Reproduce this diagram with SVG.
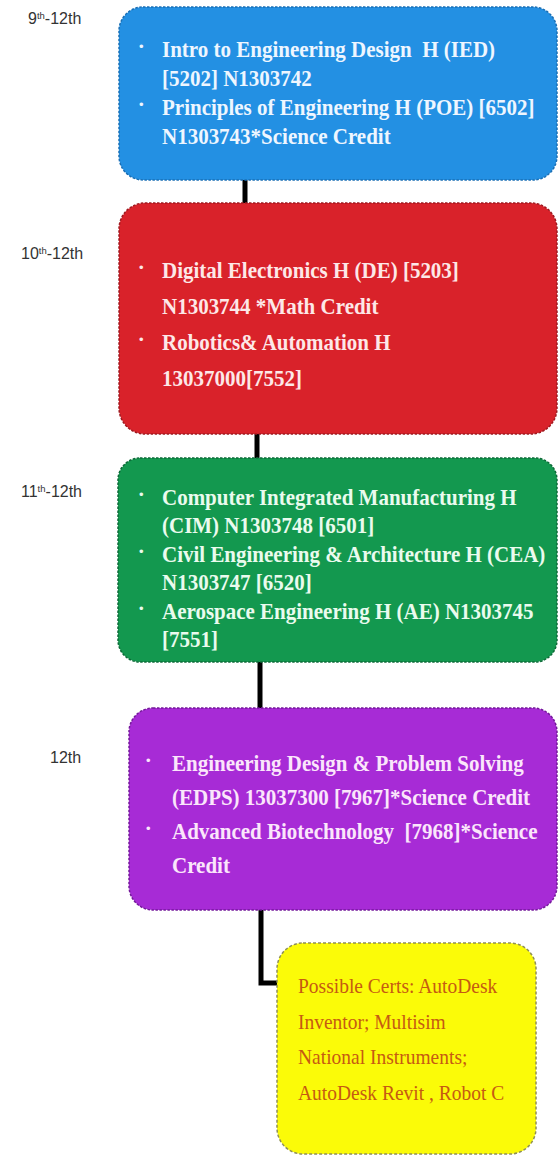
<svg xmlns="http://www.w3.org/2000/svg" width="559" height="1158" viewBox="0 0 559 1158">
  <style>
    .grade { font-family: "Liberation Sans Narrow", "Liberation Sans", Arial, sans-serif; font-size: 16px; fill: #333333; }
    .course { font-family: "Liberation Serif", "Times New Roman", serif; font-size: 21px; font-weight: bold;
              transform: scaleY(1.13); transform-box: fill-box; transform-origin: 0 80.5%; }
    .bullet { font-family: "Liberation Sans", Arial, sans-serif; font-size: 13px; }
    .box { stroke-width: 1.5; stroke-dasharray: 2.5 1.5; }
    .certs { font-family: "Liberation Serif", "Times New Roman", serif; font-size: 19.5px; fill: #c65a12;
             transform: scaleY(1.1); transform-box: fill-box; transform-origin: 0 80.5%; }
    .link { fill: none; stroke: #000000; stroke-width: 5; stroke-linejoin: miter; stroke-linecap: butt; }
  </style>

  <rect width="559" height="1158" fill="#ffffff"/>

  <!-- grade levels -->
  <g id="grades">
    <text class="grade" x="28" y="24">9<tspan font-size="9.5" dy="-5.5">th</tspan><tspan dy="5.5">-12th</tspan></text>
    <text class="grade" x="21" y="259">10<tspan font-size="9.5" dy="-5.5">th</tspan><tspan dy="5.5">-12th</tspan></text>
    <text class="grade" x="21" y="497">11<tspan font-size="9.5" dy="-5.5">th</tspan><tspan dy="5.5">-12th</tspan></text>
    <text class="grade" x="50" y="763">12th</text>
  </g>

  <!-- connectors -->
  <g id="connectors">
    <path class="link" d="M245 180 V204"/>
    <path class="link" d="M257 433 V459"/>
    <path class="link" d="M260 661 V709"/>
    <path class="link" d="M261 909 V983 H279"/>
  </g>

  <!-- 9th-12th courses -->
  <g id="node-ied-poe">
    <rect class="box" x="119" y="7" width="438" height="173" rx="24" fill="#2390e3" stroke="#1a6fb5"/>
    <g fill="#eef6ff">
      <text class="bullet" x="139" y="51">•</text>
      <text class="course" x="162" y="57" xml:space="preserve">Intro to Engineering Design  H (IED)</text>
      <text class="course" x="162" y="86">[5202] N1303742</text>
      <text class="bullet" x="139" y="109">•</text>
      <text class="course" x="162" y="115">Principles of Engineering H (POE) [6502]</text>
      <text class="course" x="162" y="144">N1303743*Science Credit</text>
    </g>
  </g>

  <!-- 10th-12th courses -->
  <g id="node-de-robotics">
    <rect class="box" x="119" y="203" width="438" height="231" rx="26" fill="#d9222a" stroke="#9e1a20"/>
    <g fill="#fde8e8">
      <text class="bullet" x="139" y="272">•</text>
      <text class="course" x="162" y="278">Digital Electronics H (DE) [5203]</text>
      <text class="course" x="162" y="314">N1303744 *Math Credit</text>
      <text class="bullet" x="139" y="344">•</text>
      <text class="course" x="162" y="350">Robotics&amp; Automation H</text>
      <text class="course" x="162" y="386">13037000[7552]</text>
    </g>
  </g>

  <!-- 11th-12th courses -->
  <g id="node-cim-cea-ae">
    <rect class="box" x="118" y="458" width="439" height="204" rx="22" fill="#13984f" stroke="#0d6b38"/>
    <g fill="#eafbee">
      <text class="bullet" x="139" y="499">•</text>
      <text class="course" x="162" y="505">Computer Integrated Manufacturing H</text>
      <text class="course" x="162" y="533">(CIM) N1303748 [6501]</text>
      <text class="bullet" x="139" y="556">•</text>
      <text class="course" x="162" y="562">Civil Engineering &amp; Architecture H (CEA)</text>
      <text class="course" x="162" y="590">N1303747 [6520]</text>
      <text class="bullet" x="139" y="613">•</text>
      <text class="course" x="162" y="619">Aerospace Engineering H (AE) N1303745</text>
      <text class="course" x="162" y="647">[7551]</text>
    </g>
  </g>

  <!-- 12th courses -->
  <g id="node-edps-biotech">
    <rect class="box" x="129" y="708" width="428" height="202" rx="24" fill="#a72bd6" stroke="#74199a"/>
    <g fill="#fbe6fb">
      <text class="bullet" x="146" y="765">•</text>
      <text class="course" x="172" y="771">Engineering Design &amp; Problem Solving</text>
      <text class="course" x="172" y="805">(EDPS) 13037300 [7967]*Science Credit</text>
      <text class="bullet" x="146" y="833">•</text>
      <text class="course" x="172" y="839" xml:space="preserve">Advanced Biotechnology  [7968]*Science</text>
      <text class="course" x="172" y="873">Credit</text>
    </g>
  </g>

  <!-- certifications -->
  <g id="node-certs">
    <rect x="277" y="943" width="259" height="211" rx="26" fill="#fbfb08" stroke="#8f8f55" stroke-width="1.5" stroke-dasharray="3 2"/>
    <text class="certs" x="298" y="993">Possible Certs: AutoDesk</text>
    <text class="certs" x="298" y="1029">Inventor; Multisim</text>
    <text class="certs" x="298" y="1064">National Instruments;</text>
    <text class="certs" x="298" y="1100">AutoDesk Revit , Robot C</text>
  </g>
</svg>
